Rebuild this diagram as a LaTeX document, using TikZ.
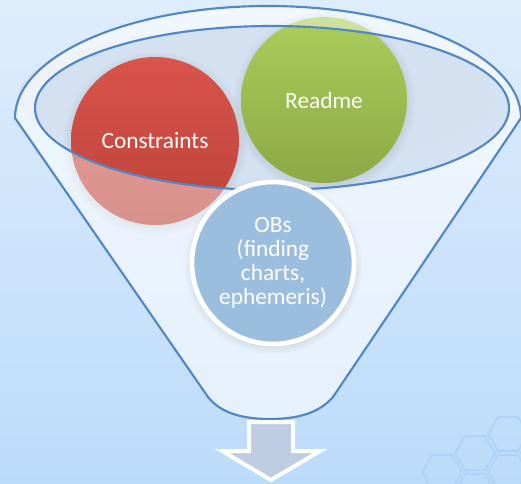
\documentclass[tikz,border=0pt]{standalone}
\usepackage{fontspec}
\setmainfont{Carlito}
\usetikzlibrary{shadows}

\definecolor{bgtop}{RGB}{222,237,252}
\definecolor{bgbot}{RGB}{188,219,250}
\definecolor{rimblue}{RGB}{82,135,196}
\definecolor{mouth}{RGB}{207,222,240}
\definecolor{glare}{RGB}{214,225,238}
\definecolor{redtop}{RGB}{218,84,74}
\definecolor{redbot}{RGB}{186,67,58}
\definecolor{greentop}{RGB}{170,205,90}
\definecolor{greenbot}{RGB}{141,168,70}
\definecolor{obsblue}{RGB}{156,190,222}
\definecolor{arrowfill}{RGB}{190,205,226}
\definecolor{hexline}{RGB}{160,200,242}

\tikzset{every picture/.style={line width=0.75pt}}
\tikzset{
  ball/.style={circle, minimum size=#1, inner sep=0pt, text=white, align=center,
    font=\fontsize{17.5}{18}\selectfont,
    circular drop shadow={shadow xshift=0pt, shadow yshift=-1.5pt, opacity=0.25}},
  rim/.style={draw=rimblue, line width=1.6pt},
  hexcell/.style={draw=hexline, line width=1.5pt, opacity=0.45}
}

\begin{document}
\begin{tikzpicture}[x=0.75pt,y=0.75pt,yscale=-1,xscale=1]
\useasboundingbox (0,0) rectangle (521,484);

%Background
\shade [top color=bgtop, bottom color=bgbot] (0,0) rectangle (521,484);

%Honeycomb in the lower right corner
\begin{scope}
\clip (400,415) rectangle (521,484);
\foreach \cx/\cy in {442/472, 475/491, 475/453, 508/472, 508/434, 541/453} {
  \draw [hexcell] (\cx-20,\cy) -- (\cx-10,\cy-17) -- (\cx+10,\cy-17) -- (\cx+20,\cy) -- (\cx+10,\cy+17) -- (\cx-10,\cy+17) -- cycle ;
}
\end{scope}

%Soft glare behind the rim
\fill [glare, opacity=0.8] (256,97) ellipse [x radius=238, y radius=70];

%Funnel body (back)
\fill [white, opacity=0.3] (15,118) arc [start angle=180, end angle=360, x radius=253, y radius=112] -- (333,397) .. controls (320,412) and (300,419) .. (270,419) .. controls (240,419) and (220,412) .. (208,397) -- cycle ;
%Mouth of the funnel
\fill [mouth, opacity=0.7] (272,108) ellipse [x radius=237, y radius=82];

%Balls inside the funnel
\node [ball=168pt*0.75, top color=redtop, bottom color=redbot] (constraints) at (155,141) {};
\node [ball=166pt*0.75, top color=greentop, bottom color=greenbot] (readme) at (324,100) {};

%Funnel body (front), lets the mouth stay clear
\fill [white, opacity=0.42, even odd rule] (15,118) arc [start angle=180, end angle=360, x radius=253, y radius=112] -- (333,397) .. controls (320,412) and (300,419) .. (270,419) .. controls (240,419) and (220,412) .. (208,397) -- cycle (272,108) ellipse [x radius=237, y radius=82];

%Labels on the balls
\node [text=white, font=\fontsize{17.5}{18}\selectfont] (constraintslabel) at (constraints) {Constraints};
\node [text=white, font=\fontsize{17.5}{18}\selectfont] (readmelabel) at (readme) {Readme};

%Outlines of the funnel
\draw [rim] (15,118) arc [start angle=180, end angle=360, x radius=253, y radius=112] -- (333,397) .. controls (320,412) and (300,419) .. (270,419) .. controls (240,419) and (220,412) .. (208,397) -- cycle ;
\draw [rim] (272,108) ellipse [x radius=237, y radius=82];

%Ball falling through
\node [ball=162pt*0.75, fill=obsblue, draw=white, line width=3.5pt] (obs) at (273,263) {OBs\\(finding\\charts,\\ephemeris)};

%Output arrow
\filldraw [fill=arrowfill, draw=white, line width=3pt, line join=miter] (249,422) -- (293,422) -- (293,451) -- (320,451) -- (271,480) -- (222,451) -- (249,451) -- cycle ;

\end{tikzpicture}
\end{document}
